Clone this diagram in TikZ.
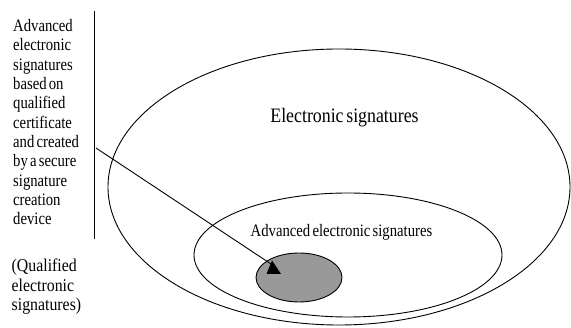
\documentclass[tikz,border=0pt]{standalone}
\usepackage{fontspec}
\newfontfamily\labfont[FakeStretch=0.84,WordSpace=0.6]{Liberation Serif}
\newfontfamily\lowfont[FakeStretch=0.88,WordSpace=0.6]{Liberation Serif}
\newfontfamily\bigfont[FakeStretch=0.87,WordSpace=0.6]{Liberation Serif}
\definecolor{qualgray}{RGB}{153,153,153}
\begin{document}
\begin{tikzpicture}[x=1pt,y=-1pt,
  outline/.style={draw=black,line width=0.9pt},
  sidetext/.style={anchor=base west,inner sep=0pt}]
\useasboundingbox (0,0) rectangle (571,328);

% nested sets of signatures
\draw[outline] (339,187) ellipse [x radius=231,y radius=138];
\draw[outline] (348,255) ellipse [x radius=154,y radius=62];
\draw[outline,fill=qualgray] (299,277.5) ellipse [x radius=43,y radius=24.5];

\node[anchor=base,inner sep=0pt,font=\bigfont\fontsize{20.5}{24}\selectfont] (es) at (344.5,123) {Electronic signatures};
\node[anchor=base,inner sep=0pt,font=\labfont\fontsize{17.5}{20}\selectfont] (aes) at (341.5,237) {Advanced electronic signatures};

% side description
\node[sidetext] (desc) at (13,31.7) {\parbox[t]{80pt}{\labfont\fontsize{17.5}{19.3}\selectfont\raggedright
Advanced\\electronic\\signatures\\based on\\qualified\\certificate\\and created\\by a secure\\signature\\creation\\device}};
\node[sidetext] (qes) at (11.5,272) {\parbox[t]{80pt}{\lowfont\fontsize{18}{19.5}\selectfont\raggedright
(Qualified\\electronic\\signatures)}};

% separator and pointer
\coordinate (septop) at (94.5,11);
\coordinate (sepbot) at (94.5,239);
\draw[line width=0.9pt] (septop) -- (sepbot);
\coordinate (from) at (96,148);
\coordinate (tip) at (271,264);
\draw[line width=0.9pt] (from) -- (tip);
\fill[black] (272,260.5) -- (281,274) -- (266.5,274) -- cycle;
\end{tikzpicture}
\end{document}
